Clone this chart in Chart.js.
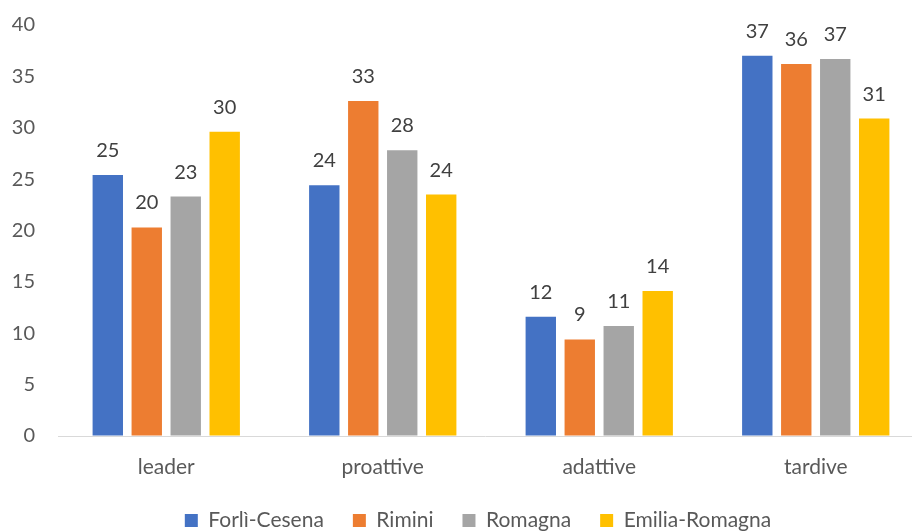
<!DOCTYPE html>
<html>
<head>
    <title>Profili</title>
    <meta charset="utf-8" />
    <script src="https://cdn.jsdelivr.net/npm/chart.js@4.4.1/dist/chart.umd.min.js"></script>
    <style>
        body {
            margin: 0;
            background: #fff;
        }
        .chart-container {
            width: 912px;
            height: 532px;
        }
    </style>
</head>
<body>
    <div class="chart-container"><canvas id="chart"></canvas></div>

    <script>
        const categories = ['leader', 'proattive', 'adattive', 'tardive'];
        const forliCesena = [25.4, 24.4, 11.6, 37.0];
        const rimini = [20.3, 32.6, 9.4, 36.2];
        const romagna = [23.3, 27.8, 10.7, 36.7];
        const emiliaRomagna = [29.6, 23.5, 14.1, 30.9];
        const yTicks = [0, 5, 10, 15, 20, 25, 30, 35, 40];

        const FONT = 'Lato, "Open Sans", sans-serif';

        // value labels above each bar
        const barLabels = {
            id: 'barLabels',
            afterDatasetsDraw(chart) {
                const ctx = chart.ctx;
                ctx.save();
                ctx.font = '20px ' + FONT;
                ctx.fillStyle = '#404040';
                ctx.textAlign = 'center';
                ctx.textBaseline = 'alphabetic';
                chart.data.datasets.forEach((ds, i) => {
                    chart.getDatasetMeta(i).data.forEach((bar, j) => {
                        ctx.fillText(Math.round(ds.data[j]), bar.x, bar.y - 18);
                    });
                });
                ctx.restore();
            }
        };

        // the original plot runs a bit past the right edge; legend sits right of centre
        const layoutTweaks = {
            id: 'layoutTweaks',
            afterInit(chart) {
                const fit = chart.legend.fit;
                chart.legend.fit = function () {
                    fit.call(this);
                    this.height = 51;
                };
            },
            afterLayout(chart) {
                const x = chart.scales.x;
                x.right += 12;
                x.width += 12;
                x.configure();
                chart.legend.left += 22;
                chart.legend.right += 22;
            }
        };

        new Chart(document.getElementById('chart'), {
            type: 'bar',
            data: {
                labels: categories,
                datasets: [
                    { label: 'Forlì-Cesena', data: forliCesena, backgroundColor: '#4472c4' },
                    { label: 'Rimini', data: rimini, backgroundColor: '#ed7d31' },
                    { label: 'Romagna', data: romagna, backgroundColor: '#a5a5a5' },
                    { label: 'Emilia-Romagna', data: emiliaRomagna, backgroundColor: '#ffc000' }
                ]
            },
            options: {
                responsive: true,
                maintainAspectRatio: false,
                animation: false,
                categoryPercentage: 0.72,
                barPercentage: 0.78,
                layout: {
                    padding: { top: 25, right: 0, left: 0, bottom: 0 }
                },
                plugins: {
                    tooltip: { enabled: false },
                    legend: {
                        position: 'bottom',
                        labels: {
                            font: { family: FONT, size: 21 },
                            color: '#595959',
                            boxWidth: 13,
                            boxHeight: 13,
                            padding: 29
                        }
                    }
                },
                scales: {
                    x: {
                        afterFit(scale) { scale.height = 45; },
                        grid: { display: false, drawTicks: false },
                        border: { display: true, color: '#d9d9d9', width: 1 },
                        ticks: {
                            font: { family: FONT, size: 21 },
                            color: '#595959',
                            padding: 19
                        }
                    },
                    y: {
                        min: 0,
                        max: 40,
                        afterFit(scale) { scale.width = 58; },
                        afterBuildTicks(scale) {
                            scale.ticks = yTicks.map(v => ({ value: v }));
                        },
                        grid: {
                            display: true,
                            drawOnChartArea: false,
                            drawTicks: true,
                            tickLength: 23,
                            color: 'rgba(0,0,0,0)'
                        },
                        border: { display: false },
                        ticks: {
                            font: { family: FONT, size: 20 },
                            color: '#595959',
                            padding: 0
                        }
                    }
                }
            },
            plugins: [barLabels, layoutTweaks]
        });
    </script>
</body>
</html>
